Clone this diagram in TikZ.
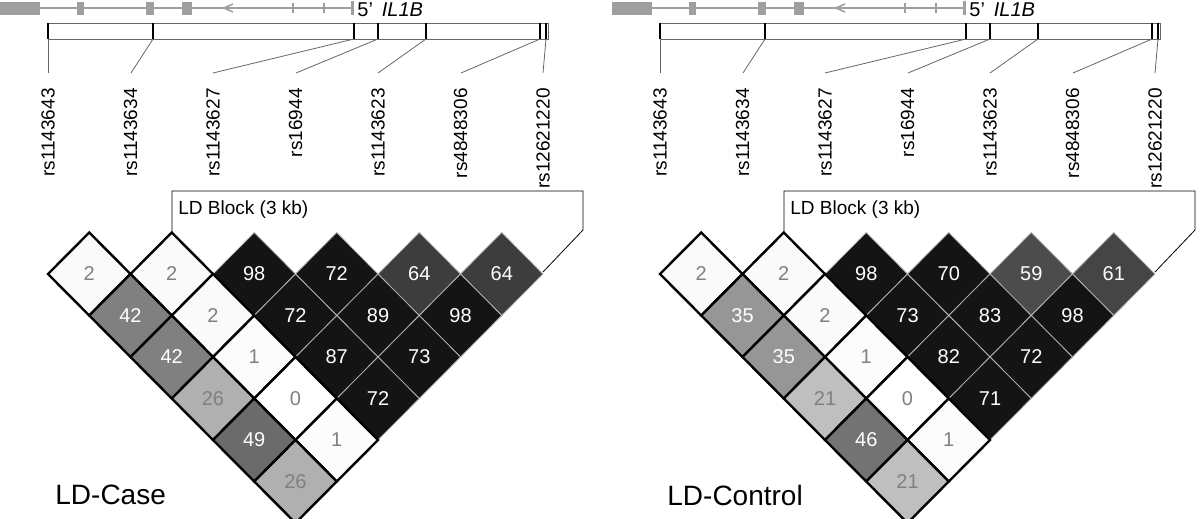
\documentclass[tikz,border=0pt]{standalone}
\usepackage{fontspec}
\setmainfont{Liberation Sans}
\usetikzlibrary{positioning}

\tikzset{
  exon/.style={fill=gray!75,draw=none},
  snplabel/.style={rotate=90,anchor=east,inner sep=0pt,font=\fontsize{9.5}{10}\selectfont},
  cellnum/.style={font=\fontsize{10}{11}\selectfont,inner sep=0pt},
  paneltitle/.style={anchor=west,inner sep=0pt,font=\fontsize{14}{16}\selectfont}
}

% one LD panel: offset, cell list i/j/value, title
\newcommand{\ldpanel}[3]{
  \begin{scope}[xshift=#1*0.5pt]
    % gene model
    \draw[gray!75,line width=1pt] (0,8) -- (351,8);
    \fill[exon] (0,2) rectangle (40,15);
    \fill[exon] (77,2) rectangle (84,15);
    \fill[exon] (146,2) rectangle (154,15);
    \fill[exon] (182,2) rectangle (192,15);
    \foreach \t in {293,324} \draw[gray!75,line width=1pt] (\t,3) -- (\t,13);
    \draw[gray!75,line width=1.5pt] (352,1) -- (352,15);
    \draw[gray!75,line width=0.8pt] (233,4) -- (224,8) -- (233,12);
    \node[anchor=south west,inner sep=0pt,font=\fontsize{10}{12}\selectfont] (gname) at (357,17) {5'\, \textit{IL1B}};
    % scale bar
    \draw[gray!80!black,thin] (48,23) rectangle (548,39);
    \foreach \tk/\lx [count=\k] in {48/48,153/131,354/213,378/296,426/378,540/461,546/543}{
      \coordinate (tk\k) at (\tk,39);
      \coordinate (tp\k) at (\lx,73);
      \draw[line width=1pt] (\tk,23) -- (tk\k);
      \draw[gray!80!black,thin] (tk\k) -- (tp\k);
    }
    \foreach \lab [count=\k] in {rs1143643,rs1143634,rs1143627,rs16944,rs1143623,rs4848306,rs12621220}{
      \node[snplabel] (snp\k) at ({48+(\k-1)*82.5},88) {\lab};
    }
    % LD block bracket
    \draw[thin] (172,233) -- (172,191) -- (583,191) -- (583,230) -- (543,272);
    \node[anchor=north west,inner sep=0pt,font=\fontsize{9.5}{11}\selectfont] (blk) at (178,200) {LD Block (3 kb)};
    % cells
    \foreach \i/\j/\v in {#2}{
      \pgfmathsetmacro\cx{48+(\i+\j-2)*41.25}
      \pgfmathsetmacro\cy{274+(\j-\i-1)*41.5}
      \pgfmathtruncatemacro\lvl{\v>=70 ? 92 : 1.2*\v}
      \pgfmathsetmacro\inblk{\i>=3 ? 1 : 0}
      \ifdim\inblk pt>0.5pt
        \def\edge{gray!60}\def\lw{0.4pt}
      \else
        \def\edge{black}\def\lw{1.2pt}
      \fi
      \ifnum\v<35 \def\tcol{gray}\else\def\tcol{white}\fi
      \filldraw[fill=black!\lvl,draw=\edge,line width=\lw]
        (\cx-41.25,\cy) -- (\cx,\cy-41.5) -- (\cx+41.25,\cy) -- (\cx,\cy+41.5) -- cycle;
      \node[cellnum,text=\tcol] (c\i\j) at (\cx,\cy) {\v};
    }
    \node[paneltitle] (ttl) at (55,495) {#3};
  \end{scope}
}

\begin{document}
\begin{tikzpicture}[x=0.5pt,y=-0.5pt]
  \useasboundingbox (0,0) rectangle (1200,519);
  \ldpanel{0}{3/4/98,4/5/72,5/6/64,6/7/64,3/5/72,4/6/89,5/7/98,3/6/87,4/7/73,3/7/72,
    1/2/2,2/3/2,1/3/42,2/4/2,1/4/42,2/5/1,1/5/26,2/6/0,1/6/49,2/7/1,1/7/26}{LD-Case}
  \ldpanel{612}{3/4/98,4/5/70,5/6/59,6/7/61,3/5/73,4/6/83,5/7/98,3/6/82,4/7/72,3/7/71,
    1/2/2,2/3/2,1/3/35,2/4/2,1/4/35,2/5/1,1/5/21,2/6/0,1/6/46,2/7/1,1/7/21}{LD-Control}
\end{tikzpicture}
\end{document}
